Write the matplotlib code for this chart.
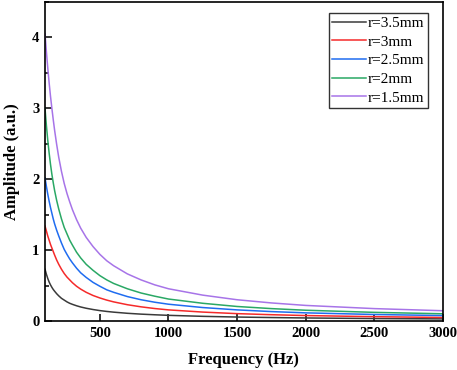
import matplotlib
matplotlib.use("Agg")
import matplotlib.pyplot as plt
from matplotlib.ticker import MultipleLocator

freq = [100, 110, 120, 130, 140, 150, 160, 170, 185, 200, 220, 240, 260, 280, 300, 330,
        360, 400, 450, 500, 550, 600, 700, 800, 900, 1000, 1250, 1500, 1750, 2000, 2500, 3000]
amp_r35 = [0.73, 0.66, 0.60, 0.55, 0.51, 0.475, 0.445, 0.42, 0.385, 0.355, 0.32, 0.295, 0.27, 0.25, 0.235, 0.215,
           0.198, 0.18, 0.162, 0.147, 0.135, 0.125, 0.109, 0.097, 0.088, 0.08, 0.066, 0.056, 0.049, 0.043, 0.035, 0.03]
amp_r3 = [1.34, 1.27, 1.20, 1.14, 1.08, 1.03, 0.98, 0.93, 0.86, 0.80, 0.73, 0.67, 0.62, 0.58, 0.54, 0.49,
          0.45, 0.405, 0.36, 0.325, 0.295, 0.27, 0.23, 0.20, 0.176, 0.157, 0.126, 0.104, 0.089, 0.077, 0.061, 0.05]
amp_r25 = [2.02, 1.90, 1.79, 1.69, 1.60, 1.52, 1.44, 1.37, 1.28, 1.20, 1.10, 1.01, 0.94, 0.875, 0.82, 0.745,
           0.68, 0.615, 0.545, 0.49, 0.44, 0.405, 0.345, 0.30, 0.265, 0.237, 0.19, 0.157, 0.133, 0.115, 0.092, 0.077]
amp_r2 = [3.00, 2.76, 2.55, 2.37, 2.21, 2.07, 1.95, 1.84, 1.70, 1.58, 1.44, 1.32, 1.23, 1.14, 1.07, 0.97,
          0.89, 0.80, 0.715, 0.64, 0.58, 0.53, 0.455, 0.395, 0.35, 0.31, 0.25, 0.205, 0.175, 0.152, 0.122, 0.102]
amp_r15 = [4.05, 3.80, 3.57, 3.36, 3.17, 3.00, 2.84, 2.69, 2.49, 2.31, 2.11, 1.94, 1.80, 1.68, 1.57, 1.43,
           1.31, 1.18, 1.05, 0.94, 0.85, 0.78, 0.665, 0.58, 0.51, 0.455, 0.365, 0.30, 0.255, 0.22, 0.175, 0.145]

labels = ["r=3.5mm", "r=3mm", "r=2.5mm", "r=2mm", "r=1.5mm"]
colors = ["#3a3a3a", "#f52a2a", "#1f6cf0", "#2aa865", "#a774e8"]
series = [amp_r35, amp_r3, amp_r25, amp_r2, amp_r15]

plt.rcParams['font.family'] = ['Liberation Serif', 'DejaVu Serif']

fig = plt.figure(figsize=(4.57, 3.70), dpi=100)
ax = fig.add_axes([0.0985, 0.1324, 0.8705, 0.8622])

for y, c, l in zip(series, colors, labels):
    ax.plot(freq, y, color=c, lw=1.1, label=l)

ax.set_xlim(100, 3000)
ax.set_ylim(0, 4.5)
ax.set_xticks([500, 1000, 1500, 2000, 2500, 3000])
ax.set_yticks([0, 1, 2, 3, 4])
ax.yaxis.set_minor_locator(MultipleLocator(0.5))
ax.tick_params(which='both', direction='in', width=1.1)
ax.tick_params(which='major', length=5, labelsize=10.5, pad=4)
ax.tick_params(which='minor', length=3)
for lab in ax.get_xticklabels() + ax.get_yticklabels():
    lab.set_fontweight('bold')
for s in ax.spines.values():
    s.set_linewidth(1.2)

ax.set_xlabel("Frequency (Hz)", fontsize=12, fontweight='bold', labelpad=9)
ax.set_ylabel("Amplitude (a.u.)", fontsize=12, fontweight='bold', labelpad=9)

leg = ax.legend(loc='upper right', bbox_to_anchor=(0.962, 0.966), fontsize=11,
                frameon=True, fancybox=False, handlelength=2.2, handletextpad=0.15,
                labelspacing=0.33, borderpad=0.22, borderaxespad=0)
leg.get_frame().set_edgecolor('black')
leg.get_frame().set_linewidth(1.0)

fig.savefig("out.png", dpi=100)
